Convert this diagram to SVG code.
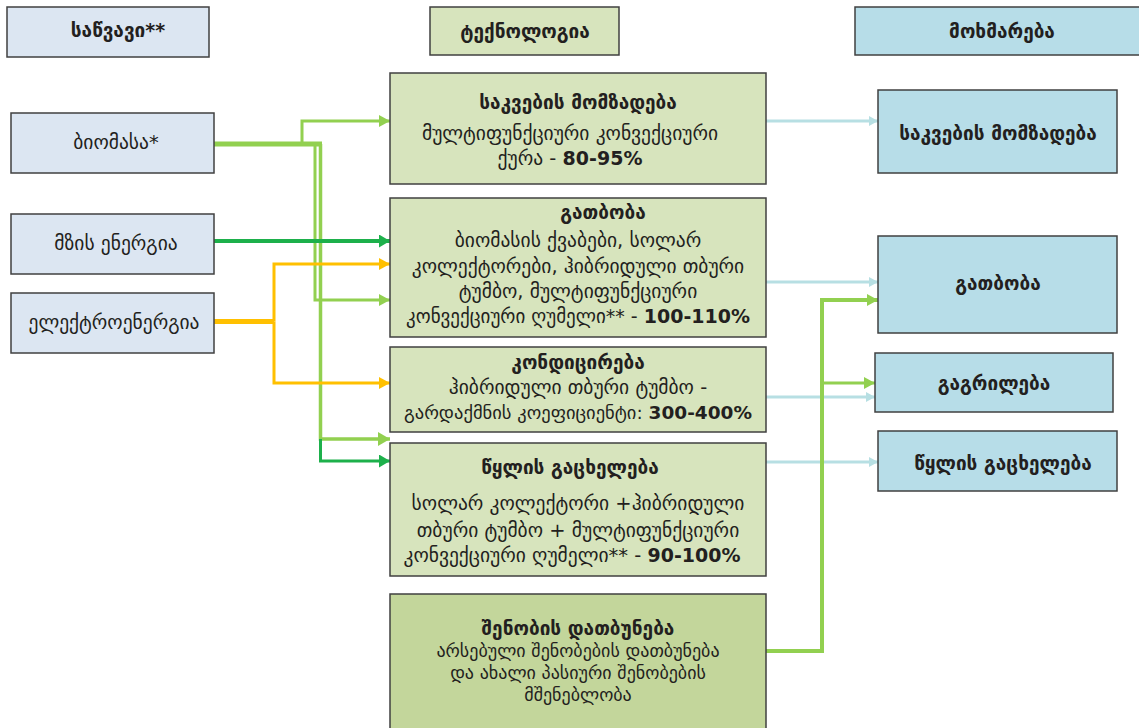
<svg xmlns="http://www.w3.org/2000/svg" width="1139" height="728" viewBox="0 0 1139 728">
<style>
text{font-family:"DejaVu Sans","Noto Sans",sans-serif;font-size:19.5px;fill:#231f20;text-anchor:middle}
.b{font-weight:bold;font-size:19px}
.s{font-size:18px}
.src{fill:#dce6f2;stroke:#404040;stroke-width:1.5}
.tech{fill:#d7e4bd;stroke:#404040;stroke-width:1.5}
.tech2{fill:#c3d69b;stroke:#404040;stroke-width:1.5}
.use{fill:#b7dde8;stroke:#404040;stroke-width:1.5}
.c{fill:none;stroke-linejoin:miter}
.lg{stroke:#92d050}
.dg{stroke:#1db04b}
.ye{stroke:#ffc000}
.lb{stroke:#b7dfe3}
</style>
<defs>
<marker id="aLg" markerUnits="userSpaceOnUse" markerWidth="11" markerHeight="12" refX="11" refY="6" orient="auto"><path d="M0,0 L11,6 L0,12 z" fill="#92d050"/></marker>
<marker id="aLgBig" markerUnits="userSpaceOnUse" markerWidth="12" markerHeight="14" refX="12" refY="7" orient="auto"><path d="M0,0 L12,7 L0,14 z" fill="#92d050"/></marker>
<marker id="aDg" markerUnits="userSpaceOnUse" markerWidth="11" markerHeight="13" refX="11" refY="6.5" orient="auto"><path d="M0,0 L11,6.5 L0,13 z" fill="#1db04b"/></marker>
<marker id="aYe" markerUnits="userSpaceOnUse" markerWidth="11" markerHeight="12" refX="11" refY="6" orient="auto"><path d="M0,0 L11,6 L0,12 z" fill="#ffc000"/></marker>
<marker id="aLb" markerUnits="userSpaceOnUse" markerWidth="9" markerHeight="10" refX="9" refY="5" orient="auto"><path d="M0,0 L9,5 L0,10 z" fill="#b7dfe3"/></marker>
</defs>
<rect width="1139" height="728" fill="#ffffff"/>

<g id="connectors">
<path class="c lg" stroke-width="5" d="M214,144 H322"/>
<path class="c lg" stroke-width="3" d="M302,144 V121 H390" marker-end="url(#aLg)"/>
<path class="c lg" stroke-width="3" d="M315,144 V300 H390" marker-end="url(#aLg)"/>
<path class="c lg" stroke-width="3.5" d="M320.5,144 V439 H390" marker-end="url(#aLgBig)"/>
<path class="c dg" stroke-width="4" d="M214,241 H390" marker-end="url(#aDg)"/>
<path class="c dg" stroke-width="3" d="M320.5,439 V461 H390" marker-end="url(#aDg)"/>
<path class="c ye" stroke-width="5" d="M214,321.5 H274"/>
<path class="c ye" stroke-width="3" d="M274,321.5 V264 H390" marker-end="url(#aYe)"/>
<path class="c ye" stroke-width="3" d="M274,321.5 V383 H390" marker-end="url(#aYe)"/>
<path class="c lb" stroke-width="3" d="M766,121 H878" marker-end="url(#aLb)"/>
<path class="c lb" stroke-width="3" d="M766,282 H878" marker-end="url(#aLb)"/>
<path class="c lb" stroke-width="3" d="M766,397 H875" marker-end="url(#aLb)"/>
<path class="c lb" stroke-width="3" d="M766,462 H878" marker-end="url(#aLb)"/>
<path class="c lg" stroke-width="4" d="M766,651 H822 V300 H878" marker-end="url(#aLg)"/>
<path class="c lg" stroke-width="3" d="M822,383 H875" marker-end="url(#aLg)"/>
</g>

<g id="hdr-fuel"><rect class="src" x="7" y="7" width="202" height="50"/><text class="b" x="118" y="37">საწვავი**</text></g>
<g id="hdr-tech"><rect class="tech" x="430" y="7" width="189" height="48"/><text class="b" x="525" y="38">ტექნოლოგია</text></g>
<g id="hdr-use"><rect class="use" x="855" y="7" width="290" height="48"/><text class="b" x="1002" y="38">მოხმარება</text></g>

<g id="src-biomass"><rect class="src" x="11" y="113" width="203" height="60"/><text x="116" y="149">ბიომასა*</text></g>
<g id="src-sun"><rect class="src" x="11" y="214" width="203" height="60"/><text x="116" y="250">მზის ენერგია</text></g>
<g id="src-elec"><rect class="src" x="11" y="293" width="203" height="60"/><text x="114" y="329">ელექტროენერგია</text></g>

<g id="tech-cooking"><rect class="tech" x="390" y="73" width="376" height="111"/>
<text class="b" x="578" y="109">საკვების მომზადება</text>
<text x="570" y="140">მულტიფუნქციური კონვექციური</text>
<text x="570" y="165">ქურა - <tspan class="b">80-95%</tspan></text></g>

<g id="tech-heating"><rect class="tech" x="390" y="198" width="376" height="139"/>
<text class="b" x="603" y="219">გათბობა</text>
<text x="578" y="247">ბიომასის ქვაბები, სოლარ</text>
<text x="578" y="273">კოლექტორები, ჰიბრიდული თბური</text>
<text x="578" y="298">ტუმბო, მულტიფუნქციური</text>
<text x="578" y="323" style="font-size:19px">კონვექციური ღუმელი** - <tspan class="b">100-110%</tspan></text></g>

<g id="tech-cond"><rect class="tech" x="390" y="347" width="376" height="85"/>
<text class="b" x="578" y="369">კონდიცირება</text>
<text x="578" y="394">ჰიბრიდული თბური ტუმბო -</text>
<text x="578" y="419" style="font-size:18.5px">გარდაქმნის კოეფიციენტი: <tspan class="b" style="font-size:18.5px">300-400%</tspan></text></g>

<g id="tech-water"><rect class="tech" x="390" y="443" width="376" height="133"/>
<text class="b" x="570" y="474">წყლის გაცხელება</text>
<text x="578" y="510">სოლარ კოლექტორი +ჰიბრიდული</text>
<text x="578" y="537">თბური ტუმბო + მულტიფუნქციური</text>
<text x="572" y="562">კონვექციური ღუმელი** - <tspan class="b">90-100%</tspan></text></g>

<g id="tech-envelope"><rect class="tech2" x="390" y="594" width="376" height="140"/>
<text class="b" x="578" y="635">შენობის დათბუნება</text>
<text class="s" x="578" y="657">არსებული შენობების დათბუნება</text>
<text class="s" x="578" y="679">და ახალი პასიური შენობების</text>
<text class="s" x="578" y="701">მშენებლობა</text></g>

<g id="use-cooking"><rect class="use" x="878" y="90" width="239" height="83"/><text class="b" x="998" y="140">საკვების მომზადება</text></g>
<g id="use-heating"><rect class="use" x="878" y="236" width="239" height="97"/><text class="b" x="998" y="290">გათბობა</text></g>
<g id="use-cooling"><rect class="use" x="875" y="353" width="238" height="59"/><text class="b" x="994" y="390">გაგრილება</text></g>
<g id="use-water"><rect class="use" x="878" y="431" width="239" height="60"/><text class="b" x="1003" y="470">წყლის გაცხელება</text></g>
</svg>
